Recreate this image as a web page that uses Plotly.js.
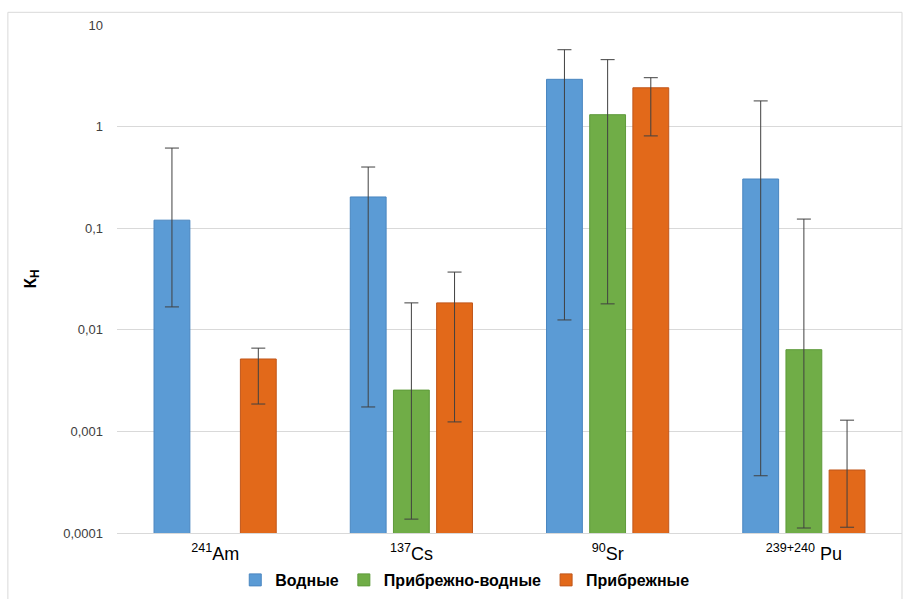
<!DOCTYPE html>
<html>
<head>
<meta charset="utf-8">
<script src="https://cdn.plot.ly/plotly-3.0.1.min.js"></script>
<style>html,body{margin:0;padding:0;background:#fff;}#chart{width:903px;height:599px;}</style>
</head>
<body>
<div id="chart"></div>
<script>
const categories = ['<sup>241</sup>Am', '<sup>137</sup>Cs', '<sup>90</sup>Sr', '<sup>239+240</sup> Pu'];
const seriesNames = ['Водные', 'Прибрежно-водные', 'Прибрежные'];
const colors = ['#5B9BD5', '#70AD47', '#E2691A'];
const lineColors = ['#4A86C0', '#5E9A3A', '#C0561A'];

const vodnye = [0.12, 0.203, 2.92, 0.305];
const vodnyeHigh = [0.615, 0.40, 5.71, 1.79];
const vodnyeLow = [0.0168, 0.00174, 0.0125, 0.000366];

const pribVodnye = [null, 0.00255, 1.31, 0.00637];
const pribVodnyeHigh = [null, 0.0184, 4.56, 0.123];
const pribVodnyeLow = [null, 0.000137, 0.018, 0.000112];

const pribrezhnye = [0.00516, 0.0184, 2.41, 0.000417];
const pribrezhnyeHigh = [0.0066, 0.037, 3.03, 0.00129];
const pribrezhnyeLow = [0.00186, 0.00124, 0.81, 0.000114];

const tickVals = [0.0001, 0.001, 0.01, 0.1, 1, 10];
const tickText = ['0,0001', '0,001', '0,01', '0,1', '1', '10'];

function makeTrace(idx, vals, hi, lo) {
  return {
    type: 'bar',
    name: seriesNames[idx],
    x: categories,
    y: vals,
    marker: {color: colors[idx], line: {color: lineColors[idx], width: 1}},
    error_y: {
      type: 'data',
      symmetric: false,
      array: vals.map((v, i) => v == null ? null : hi[i] - v),
      arrayminus: vals.map((v, i) => v == null ? null : v - lo[i]),
      color: '#404040',
      thickness: 1,
      width: 7
    }
  };
}

const data = [
  makeTrace(0, vodnye, vodnyeHigh, vodnyeLow),
  makeTrace(1, pribVodnye, pribVodnyeHigh, pribVodnyeLow),
  makeTrace(2, pribrezhnye, pribrezhnyeHigh, pribrezhnyeLow)
];

const layout = {
  width: 903,
  height: 599,
  margin: {l: 117, r: 1, t: 25, b: 66},
  paper_bgcolor: '#ffffff',
  plot_bgcolor: '#ffffff',
  barmode: 'group',
  bargap: 0.34,
  bargroupgap: 0.17,
  font: {family: 'Liberation Sans, Arial, sans-serif', color: '#404040'},
  xaxis: {
    type: 'category',
    tickfont: {size: 18, color: '#000000', family: 'Liberation Sans, Arial, sans-serif'},
    showline: true,
    linecolor: '#d9d9d9',
    linewidth: 1,
    ticks: '',
    ticklabelstandoff: 4,
    showgrid: false,
    automargin: false
  },
  yaxis: {
    type: 'log',
    range: [-4, 1],
    tickvals: tickVals,
    ticktext: tickText,
    tickfont: {size: 13, color: '#404040'},
    ticks: '',
    ticklabelstandoff: 13,
    showgrid: true,
    gridcolor: '#d9d9d9',
    gridwidth: 1,
    zeroline: false,
    showline: false,
    automargin: false,
    title: {text: '<b>К<sub>Н</sub></b>', font: {size: 17, color: '#000000'}, standoff: 22}
  },
  legend: {
    orientation: 'h',
    x: 0.443,
    xanchor: 'center',
    y: -0.0925,
    yanchor: 'middle',
    font: {size: 16, color: '#000000', family: 'Liberation Sans, Arial, sans-serif', weight: 'bold'},
    itemwidth: 30,
    tracegroupgap: 0
  },
  showlegend: true,
  shapes: [{
    type: 'rect', xref: 'paper', yref: 'paper',
    x0: -0.139, x1: 1.0, y0: -0.3, y1: 1.025,
    line: {color: '#d9d9d9', width: 1}, fillcolor: 'rgba(0,0,0,0)', layer: 'below'
  }]
};

Plotly.newPlot('chart', data, layout, {displayModeBar: false, staticPlot: true});
</script>
</body>
</html>
